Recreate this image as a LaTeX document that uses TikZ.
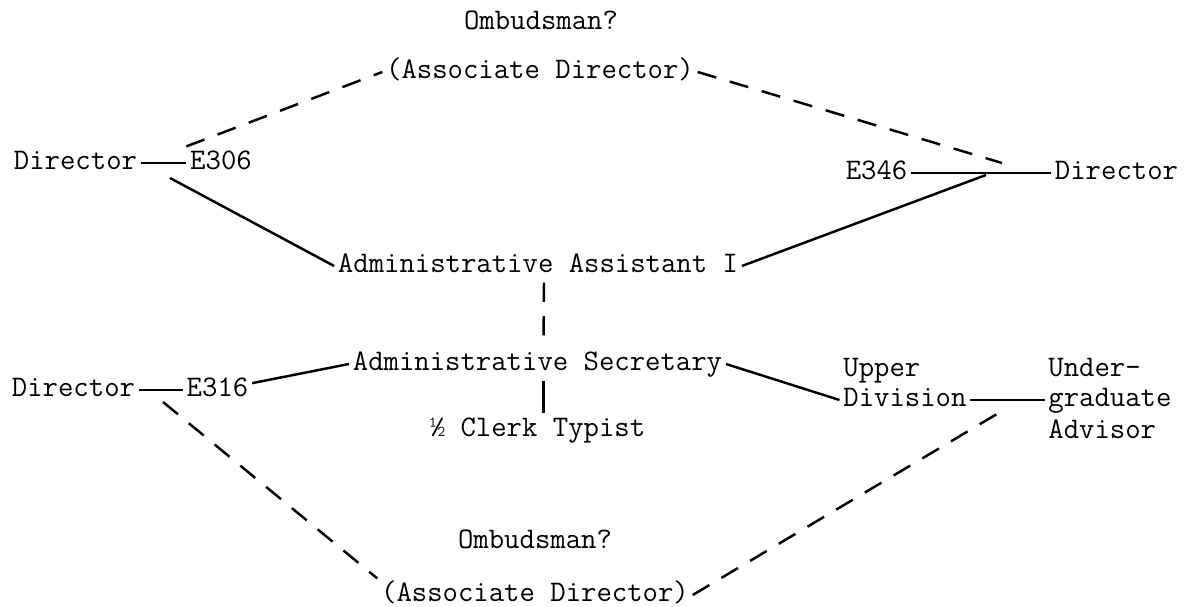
\documentclass[tikz,border=0pt]{standalone}
\usepackage{fontspec}

\begin{document}
\begin{tikzpicture}[
  every node/.style={font=\ttfamily\fontsize{17}{20}\selectfont, inner sep=2pt,
                     text height=11pt, text depth=3.5pt},
  solidln/.style={line width=1.4pt},
  dashln/.style={line width=1.4pt, dash pattern=on 11pt off 8pt}
]
\useasboundingbox (0,0) rectangle (23.78,12.12);

% =======================
% Upper group
% =======================
\node (omb1)   at (10.82,11.66) {Ombudsman?};
\node (assoc1) at (10.80,10.68) {(Associate Director)};

\node (dirA) at ( 1.51, 8.86) {Director};
\node (e306) at ( 4.42, 8.86) {E306};
\node (e346) at (17.53, 8.66) {E346};
\node (dirB) at (22.33, 8.66) {Director};

\node (asst) at (10.76, 6.80) {Administrative Assistant I};

\coordinate (kA)   at ( 3.40, 8.56);
\coordinate (jA)   at (19.72, 8.62);
\coordinate (tipA) at (20.04, 8.86);

\draw[solidln] (dirA) -- (e306);
\draw[dashln]  (e306.north west) -- (assoc1.west);
\draw[dashln]  (assoc1.east) -- (tipA);
\draw[solidln] (e346) -- (dirB);
\draw[solidln] (kA) -- (asst.west);
\draw[solidln] (asst.east) -- (jA);

% =======================
% Lower group
% =======================
\node (secr)  at (10.75, 4.84) {Administrative Secretary};
\node (clerk) at (10.75, 3.52) {½ Clerk Typist};

\node (dirC) at ( 1.47, 4.32) {Director};
\node (e316) at ( 4.35, 4.32) {E316};

\node[anchor=west] (upper) at (16.79, 4.72) {Upper};
\node[anchor=west] (divis) at (16.79, 4.12) {Division};
\node[anchor=west] (under) at (20.89, 4.72) {Under-};
\node[anchor=west] (grad)  at (20.89, 4.12) {graduate};
\node[anchor=west] (advis) at (20.89, 3.48) {Advisor};

\node (omb2)   at (10.70, 1.28) {Ombudsman?};
\node (assoc2) at (10.70, 0.22) {(Associate Director)};

\coordinate (kC) at ( 3.26, 4.08);
\coordinate (jC) at (20.14, 3.96);

% Vertical links
\draw[dashln]  ([xshift=0.12cm]asst.south) -- ([xshift=0.12cm]secr.north);
\draw[solidln] ([xshift=0.12cm]secr.south) -- ([xshift=0.12cm]clerk.north);

\draw[solidln] (dirC) -- (e316);
\draw[solidln] (e316) -- (secr.west);
\draw[solidln] (secr.east) -- (divis.west);
\draw[solidln] (divis) -- (grad);
\draw[dashln]  (kC) -- (assoc2.north west);
\draw[dashln]  (assoc2.east) -- (jC);

\end{tikzpicture}
\end{document}
